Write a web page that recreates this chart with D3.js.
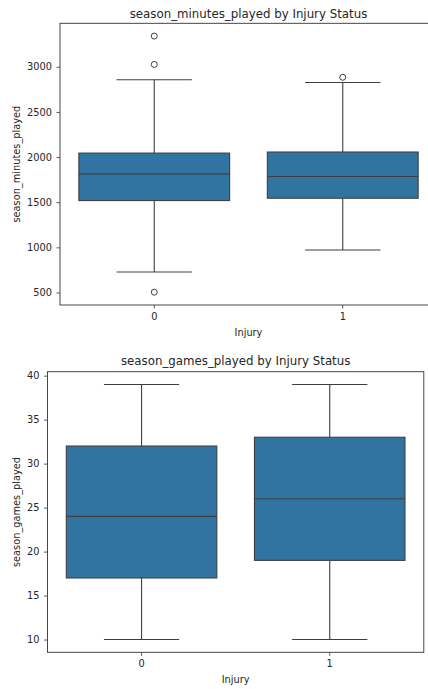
<!DOCTYPE html>
<html>
<head>
<meta charset="utf-8">
<script src="https://cdn.jsdelivr.net/npm/d3@7"></script>
<style>
  html, body { margin: 0; padding: 0; background: #fff; }
  svg { display: block; }
  text { font-family: "DejaVu Sans", sans-serif; fill: #262626; }
</style>
</head>
<body>
<svg id="chart" width="428" height="689"></svg>
<script>
// Injury status groups on the x axis
const categories = ["0", "1"];

// season_minutes_played five-number summaries per group
const minutesQ1 = [1518, 1544];
const minutesMedian = [1814, 1784];
const minutesQ3 = [2044, 2056];
const minutesWhiskerLow = [726, 970];
const minutesWhiskerHigh = [2856, 2826];
const minutesOutliers = [[3340, 3026, 503], [2884]];
const minutesTicks = [500, 1000, 1500, 2000, 2500, 3000];

// season_games_played five-number summaries per group
const gamesQ1 = [17, 19];
const gamesMedian = [24, 26];
const gamesQ3 = [32, 33];
const gamesWhiskerLow = [10, 10];
const gamesWhiskerHigh = [39, 39];
const gamesOutliers = [[], []];
const gamesTicks = [10, 15, 20, 25, 30, 35, 40];

const boxFill = "#3274a1";
const lineColor = "#3f3f3f";
const spineColor = "#333";

const svg = d3.select("#chart");

function buildGroups(q1, med, q3, lo, hi, out) {
  return categories.map((c, i) => ({
    cat: c, q1: q1[i], median: med[i], q3: q3[i], lo: lo[i], hi: hi[i], outliers: out[i]
  }));
}

function drawPanel(cfg) {
  const { left, right, top, bottom, groups, ticks, title, ylabel, titleY, ylabelX, xlabelY } = cfg;

  // data extent with 5% margins on the value axis
  const allVals = groups.flatMap(g => [g.lo, g.hi, ...g.outliers]);
  const vmin = d3.min(allVals), vmax = d3.max(allVals);
  const pad = (vmax - vmin) * 0.05;

  const y = d3.scaleLinear().domain([vmin - pad, vmax + pad]).range([bottom, top]);
  const x = d3.scaleBand().domain(categories).range([left, right])
    .paddingInner(0.2).paddingOuter(0.1);
  const bw = x.bandwidth();
  const cx = c => x(c) + bw / 2;

  const g = svg.append("g");

  // boxes, whiskers, caps, medians, outliers
  const grp = g.selectAll("g.box").data(groups).enter().append("g").attr("class", "box");

  grp.append("line")
    .attr("x1", d => cx(d.cat)).attr("x2", d => cx(d.cat))
    .attr("y1", d => y(d.q3)).attr("y2", d => y(d.hi))
    .attr("stroke", lineColor).attr("stroke-width", 1.1);
  grp.append("line")
    .attr("x1", d => cx(d.cat)).attr("x2", d => cx(d.cat))
    .attr("y1", d => y(d.q1)).attr("y2", d => y(d.lo))
    .attr("stroke", lineColor).attr("stroke-width", 1.1);
  grp.append("line")
    .attr("x1", d => cx(d.cat) - bw / 4).attr("x2", d => cx(d.cat) + bw / 4)
    .attr("y1", d => y(d.hi)).attr("y2", d => y(d.hi))
    .attr("stroke", lineColor).attr("stroke-width", 1.1);
  grp.append("line")
    .attr("x1", d => cx(d.cat) - bw / 4).attr("x2", d => cx(d.cat) + bw / 4)
    .attr("y1", d => y(d.lo)).attr("y2", d => y(d.lo))
    .attr("stroke", lineColor).attr("stroke-width", 1.1);
  grp.append("rect")
    .attr("x", d => x(d.cat)).attr("width", bw)
    .attr("y", d => y(d.q3)).attr("height", d => y(d.q1) - y(d.q3))
    .attr("fill", boxFill).attr("stroke", lineColor).attr("stroke-width", 1.1);
  grp.append("line")
    .attr("x1", d => x(d.cat)).attr("x2", d => x(d.cat) + bw)
    .attr("y1", d => y(d.median)).attr("y2", d => y(d.median))
    .attr("stroke", lineColor).attr("stroke-width", 1.1);
  grp.selectAll("circle").data(d => d.outliers.map(v => ({ cat: d.cat, v })))
    .enter().append("circle")
    .attr("cx", d => cx(d.cat)).attr("cy", d => y(d.v)).attr("r", 3)
    .attr("fill", "none").attr("stroke", lineColor).attr("stroke-width", 1);

  // axes
  const yAxis = d3.axisLeft(y).tickValues(ticks).tickFormat(d3.format("d"))
    .tickSize(3.5).tickPadding(4.5);
  const ya = g.append("g").attr("transform", `translate(${left},0)`).call(yAxis);
  const xAxis = d3.axisBottom(x).tickSize(3.5).tickPadding(4.5);
  const xa = g.append("g").attr("transform", `translate(0,${bottom})`).call(xAxis);
  [ya, xa].forEach(a => {
    a.select(".domain").remove();
    a.selectAll(".tick line").attr("stroke", spineColor).attr("stroke-width", 0.8);
    a.selectAll(".tick text").attr("font-size", 9.8).attr("fill", "#262626")
      .attr("font-family", "DejaVu Sans, sans-serif");
  });

  // frame
  g.append("rect").attr("x", left).attr("y", top)
    .attr("width", right - left).attr("height", bottom - top)
    .attr("fill", "none").attr("stroke", spineColor).attr("stroke-width", 0.9);

  // title and labels
  g.append("text").attr("x", (left + right) / 2).attr("y", titleY)
    .attr("text-anchor", "middle").attr("font-size", 11.8).text(title);
  g.append("text").attr("x", (left + right) / 2).attr("y", xlabelY)
    .attr("text-anchor", "middle").attr("font-size", 9.8).text("Injury");
  g.append("text")
    .attr("transform", `translate(${ylabelX},${(top + bottom) / 2}) rotate(-90)`)
    .attr("text-anchor", "middle").attr("font-size", 9.8).text(ylabel);
}

drawPanel({
  left: 60, right: 437, top: 23.3, bottom: 305,
  groups: buildGroups(minutesQ1, minutesMedian, minutesQ3, minutesWhiskerLow, minutesWhiskerHigh, minutesOutliers),
  ticks: minutesTicks,
  title: "season_minutes_played by Injury Status",
  ylabel: "season_minutes_played",
  titleY: 17.5, ylabelX: 19.5, xlabelY: 335.5
});

drawPanel({
  left: 47.5, right: 423.8, top: 371.7, bottom: 652.3,
  groups: buildGroups(gamesQ1, gamesMedian, gamesQ3, gamesWhiskerLow, gamesWhiskerHigh, gamesOutliers),
  ticks: gamesTicks,
  title: "season_games_played by Injury Status",
  ylabel: "season_games_played",
  titleY: 365, ylabelX: 19.5, xlabelY: 682.5
});
</script>
</body>
</html>
